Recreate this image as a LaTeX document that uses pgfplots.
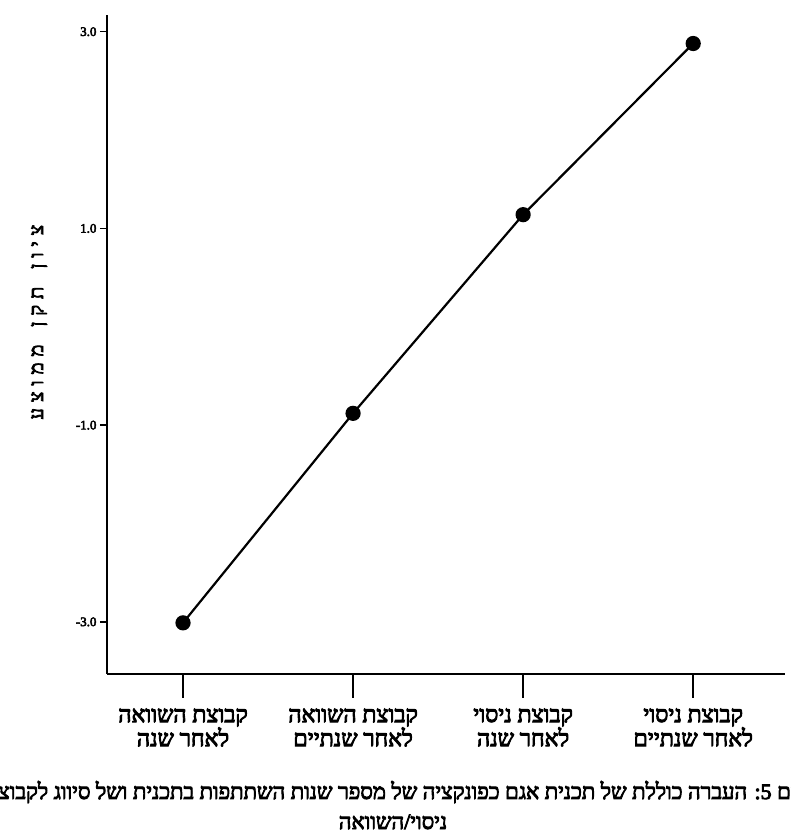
\documentclass[border=0pt]{standalone}
\usepackage{pgfplots}
\pgfplotsset{compat=1.18}
\usepackage{fontspec}
\setmainfont{Liberation Serif}
\newfontfamily\hebb[Script=Hebrew, FakeBold=4]{Liberation Serif}
\newfontfamily\numb[FakeBold=4]{Liberation Serif}
\TeXXeTstate=1
\newcommand\capfont{\hebb\fontsize{22}{26}\selectfont}
\newlength\capw
\begin{document}
\settowidth\capw{\capfont תרשי}%
\begin{tikzpicture}
\useasboundingbox (0,0) rectangle (791pt,834pt);
\clip (0,0) rectangle (791pt,834pt);
\begin{axis}[
  at={(107pt,160pt)}, anchor=south west,
  scale only axis, width=678pt, height=659pt,
  xmin=-0.447, xmax=3.54, ymin=-3.53, ymax=3.17,
  axis x line=bottom, axis y line=left,
  axis line style={-, line width=2.6pt, black},
  ytick={-3,-1,1,3},
  yticklabel style={font=\numb\fontsize{13}{15}\selectfont,
    /pgf/number format/fixed, /pgf/number format/fixed zerofill,
    /pgf/number format/precision=1, /pgf/number format/assume math mode=true},
  ytick style={line width=1.5pt, black},
  tick align=outside, major tick length=7pt,
  xtick={0,1,2,3},
  xtick style={draw=none},
  xticklabels={
    {\beginR קבוצת השוואה\endR\\\beginR לאחר שנה\endR},
    {\beginR קבוצת השוואה\endR\\\beginR לאחר שנתיים\endR},
    {\beginR קבוצת ניסוי\endR\\\beginR לאחר שנה\endR},
    {\beginR קבוצת ניסוי\endR\\\beginR לאחר שנתיים\endR}},
  xticklabel style={align=center, font=\hebb\fontsize{23}{24}\selectfont, yshift=-24pt},
  ylabel={\hebb\fontsize{20}{22}\selectfont\beginR צ\hspace{6pt}י\hspace{6pt}ו\hspace{6pt}ן\hspace{18pt}ת\hspace{6pt}ק\hspace{6pt}ן\hspace{18pt}מ\hspace{6pt}מ\hspace{6pt}ו\hspace{6pt}צ\hspace{6pt}ע\endR},
  ylabel style={at={(axis description cs:-0.1,0.534)}, anchor=center},
  clip=false,
]
\addplot[black, line width=2.2pt, mark=*, mark size=6.5pt] coordinates {(0,-3.01) (1,-0.88) (2,1.14) (3,2.88)};
\pgfplotsinvokeforeach{0,1,2,3}{\draw[line width=2pt] (axis cs:#1,-3.53) -- ++(0pt,-24pt);}
\end{axis}
\node[anchor=base east, inner sep=0pt, font=\capfont] at (791pt+\capw, 35pt) {\beginR תרשים 5: העברה כוללת של תכנית אגם כפונקציה של מספר שנות השתתפות בתכנית ושל סיווג לקבוצת\endR};
\node[anchor=base, inner sep=0pt, font=\capfont] at (393pt, 5pt) {\beginR ניסוי/השוואה\endR};
\end{tikzpicture}
\end{document}
